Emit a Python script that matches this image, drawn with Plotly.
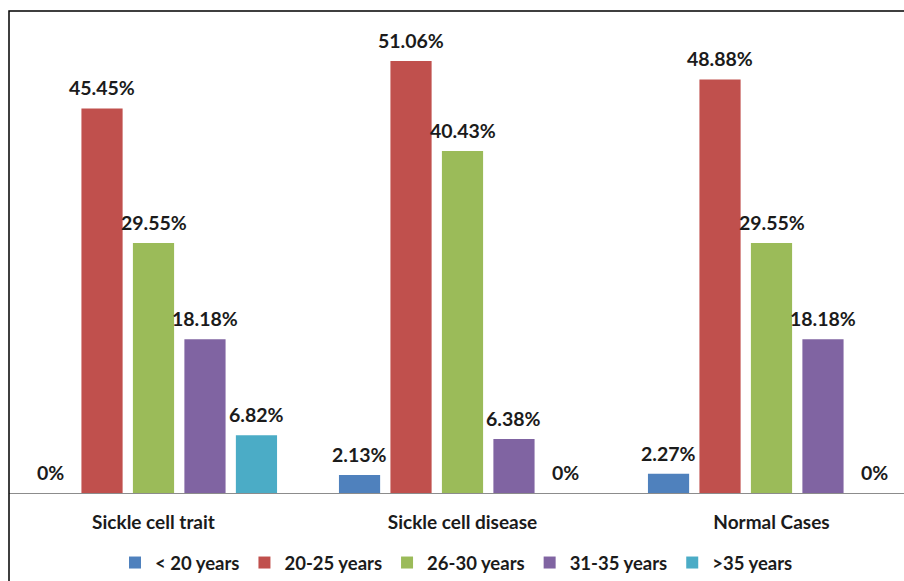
import plotly.graph_objects as go

# Age distribution by group (percent of cases)
categories = ["Sickle cell trait", "Sickle cell disease", "Normal Cases"]
series_names = ["< 20 years", "20-25 years", "26-30 years", "31-35 years", ">35 years"]
under_20 = [0, 2.13, 2.27]
age_20_25 = [45.45, 51.06, 48.88]
age_26_30 = [29.55, 40.43, 29.55]
age_31_35 = [18.18, 6.38, 18.18]
over_35 = [6.82, 0, 0]

series_values = [under_20, age_20_25, age_26_30, age_31_35, over_35]
colors = ["#4F81BD", "#C0504D", "#9BBB59", "#8064A2", "#4BACC6"]

FONT = "Lato"
TEXT_COLOR = "#1b1b1b"
BARGAP = 0.167
BARGROUPGAP = 0.2

W, H = 904, 581
M_L, M_R, M_T, M_B = 9, 0, 11, 88
PX_PER_CAT = 309.0
PX_PER_UNIT = 8.46
plot_w = W - M_L - M_R
plot_h = H - M_T - M_B
x0 = -(153.5 - M_L) / PX_PER_CAT
x_range = [x0, x0 + plot_w / PX_PER_CAT]
y_range = [0, plot_h / PX_PER_UNIT]


def fmt(v):
    return f"{v:.2f}%" if v else "0%"


fig = go.Figure()
n = len(series_names)
slot = (1 - BARGAP) / n
annotations = []
for j, (name, vals, col) in enumerate(zip(series_names, series_values, colors)):
    fig.add_trace(go.Bar(
        name=name, x=categories, y=vals, marker=dict(color=col, line=dict(width=0)),
        hoverinfo="x+y+name",
    ))
    for i, v in enumerate(vals):
        annotations.append(dict(
            x=i + (j - (n - 1) / 2) * slot, y=v, xref="x", yref="y",
            text=fmt(v), showarrow=False, yanchor="bottom", yshift=7,
            font=dict(family=FONT, size=19.5, color=TEXT_COLOR, weight="bold"),
        ))

fig.update_layout(
    width=W, height=H,
    margin=dict(l=M_L, r=M_R, t=M_T, b=M_B, autoexpand=False),
    paper_bgcolor="white", plot_bgcolor="white",
    barmode="group", bargap=BARGAP, bargroupgap=BARGROUPGAP,
    font=dict(family=FONT, color=TEXT_COLOR),
    annotations=annotations,
    showlegend=True,
    legend=dict(
        orientation="h", x=0.5, xanchor="center",
        yref="container", y=(H - 563) / H, yanchor="middle",
        font=dict(family=FONT, size=18.5, color=TEXT_COLOR, weight="bold"),
        itemwidth=30, tracegroupgap=0,
    ),
    xaxis=dict(
        type="category", range=x_range, showgrid=False, zeroline=False,
        showline=True, linecolor="#8c8c8c", linewidth=1, automargin=False,
        ticks="", ticklabelstandoff=12,
        tickfont=dict(family=FONT, size=19, color=TEXT_COLOR, weight="bold"),
    ),
    yaxis=dict(range=y_range, visible=False, automargin=False),
    shapes=[dict(
        type="rect", xref="paper", yref="paper", x0=0, x1=1.2, y0=-0.4, y1=1,
        line=dict(color="black", width=1.5), fillcolor="rgba(0,0,0,0)", layer="above",
    )],
)

fig.write_html("out.html")
